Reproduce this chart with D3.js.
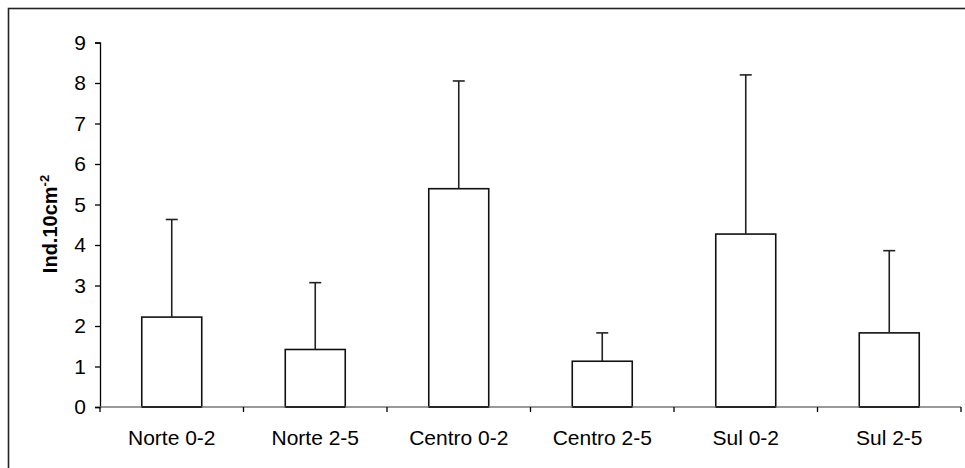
<!DOCTYPE html>
<html><head><meta charset="utf-8">
<script src="https://cdn.jsdelivr.net/npm/d3@7"></script>
<style>body{margin:0;background:#fff}svg{display:block}</style>
</head><body>
<svg id="c" width="965" height="468"></svg>
<script>
const categories = ["Norte 0-2","Norte 2-5","Centro 0-2","Centro 2-5","Sul 0-2","Sul 2-5"];
const means = [2.22, 1.42, 5.39, 1.13, 4.27, 1.83];
const upper = [4.63, 3.07, 8.05, 1.83, 8.20, 3.86];
const yTicks = [0,1,2,3,4,5,6,7,8,9];

const svg = d3.select("#c");
const W = 965, H = 468;
const font = "Liberation Sans, Arial, sans-serif";

// outer border (extends past right/bottom edges)
svg.append("rect").attr("x",8.5).attr("y",8.5).attr("width",W).attr("height",H)
  .attr("fill","none").attr("stroke","#222").attr("stroke-width",1.6);

const x = d3.scaleBand().domain(categories).range([100, 961]).padding(0);
const y = d3.scaleLinear().domain([0, 9]).range([407, 42.5]);
const barFrac = 0.418;
const bw = x.bandwidth()*barFrac;

// y axis
const yAxis = svg.append("g").attr("transform","translate(100,0)")
  .call(d3.axisLeft(y).tickValues(yTicks).tickSize(5).tickPadding(9).tickFormat(d3.format("d")));
yAxis.select(".domain").attr("stroke","#000").attr("stroke-width",1.3);
yAxis.selectAll(".tick line").attr("stroke","#000").attr("stroke-width",1.3);
yAxis.selectAll("text").attr("font-family",font).attr("font-size",21).attr("fill","#000");

// bars
svg.append("g").selectAll("rect").data(categories).join("rect")
  .attr("x",(d)=>x(d)+(x.bandwidth()-bw)/2)
  .attr("y",(d,i)=>y(means[i]))
  .attr("width",bw)
  .attr("height",(d,i)=>y(0)-y(means[i]))
  .attr("fill","#fff").attr("stroke","#111").attr("stroke-width",1.6);

// x axis line (gray) and ticks at category boundaries
const xa = svg.append("g");
xa.append("line").attr("x1",100).attr("x2",961).attr("y1",y(0)).attr("y2",y(0))
  .attr("stroke","#777").attr("stroke-width",1.4);
const bounds = categories.map(c=>x(c)).concat([x.range()[1]]);
xa.selectAll("line.t").data(bounds).join("line").attr("class","t")
  .attr("x1",d=>d).attr("x2",d=>d).attr("y1",y(0)).attr("y2",y(0)+5)
  .attr("stroke","#000").attr("stroke-width",1.3);
// redraw bar bottoms over axis
svg.append("g").selectAll("line").data(categories).join("line")
  .attr("x1",d=>x(d)+(x.bandwidth()-bw)/2).attr("x2",d=>x(d)+(x.bandwidth()+bw)/2)
  .attr("y1",y(0)).attr("y2",y(0)).attr("stroke","#111").attr("stroke-width",1.6);
xa.selectAll("text").data(categories).join("text")
  .attr("x",d=>x(d)+x.bandwidth()/2).attr("y",445)
  .attr("text-anchor","middle").attr("font-family",font).attr("font-size",21).attr("fill","#000")
  .text(d=>d);

// error bars
const eb = svg.append("g").attr("stroke","#222").attr("stroke-width",1.6);
categories.forEach((c,i)=>{
  const cx = x(c)+x.bandwidth()/2;
  eb.append("line").attr("x1",cx).attr("x2",cx).attr("y1",y(means[i])).attr("y2",y(upper[i]));
  eb.append("line").attr("x1",cx-6).attr("x2",cx+6).attr("y1",y(upper[i])).attr("y2",y(upper[i]));
});

// y label
const yl = svg.append("text").attr("transform","translate(57,224) rotate(-90)")
  .attr("text-anchor","middle").attr("font-family",font).attr("font-weight","bold")
  .attr("font-size",20).attr("fill","#000");
yl.append("tspan").text("Ind.10cm");
yl.append("tspan").attr("font-size",13).attr("dy",-8).text("-2");
</script>
</body></html>
